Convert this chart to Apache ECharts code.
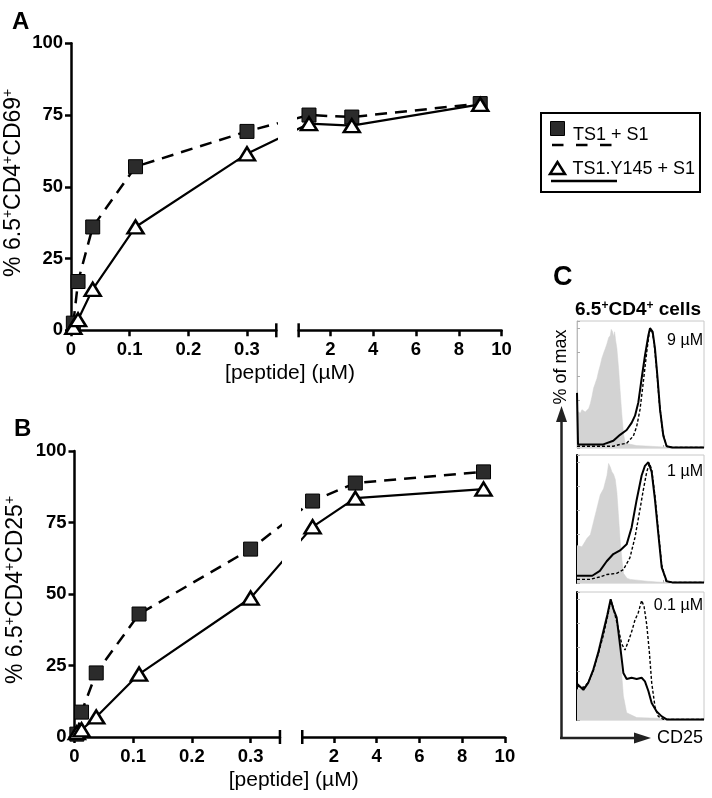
<!DOCTYPE html>
<html><head><meta charset="utf-8">
<script src="https://cdn.jsdelivr.net/npm/echarts@6/dist/echarts.min.js"></script>
<style>html,body{margin:0;padding:0;background:#fff}#c{width:712px;height:798px}</style>
</head><body><div id="c"></div>
<script>
// ---------- DATA ----------
const conc = [0.004, 0.012, 0.037, 0.11, 0.3, 1, 3, 9];           // µM
const cd69_TS1  = [2.5, 17, 36, 57, 69.3, 75, 74.3, 79];
const cd69_Y145 = [1, 3.7, 14.3, 36, 61.5, 72, 71.3, 78.7];
const cd25_TS1  = [1, 8.7, 22.4, 43, 65.7, 82.5, 88.8, 92.7];
const cd25_Y145 = [1.5, 2.5, 7, 22, 48.6, 73.5, 83.5, 86.7];
const leftTicks  = [0, 0.1, 0.2, 0.3];
const rightTicks = [2, 4, 6, 8, 10];
const yTicks = [0, 25, 50, 75, 100];

// Histograms: [CD25 channel, % of max]
const h9_ctrl = [[0,31],[1.3,31],[2.6,29],[3.9,32],[5.2,33],[6.5,30],[7.9,29],[9.2,33],[10.5,37],[11.8,43],[13.1,50],[14.4,54],[15.7,58],[17,64],[18.3,69],[19.6,75],[20.9,79],[22.3,83],[23.6,87],[24.9,92],[26.2,94],[27,99],[28,97],[28.8,93],[29.6,97],[30.4,90],[31.4,83],[32.7,67],[34,47],[35.3,28],[36.6,12],[38,4],[39.3,2.5],[47,2],[57.6,1.5],[68,0.8],[73,0.3],[100,0.3]];
const h9_TS1  = [[0,1.5],[10,1.5],[20,1.5],[28.6,1.5],[33.9,3],[39.1,4],[44.4,10],[47,18],[49.6,32],[52.2,55],[54.9,80],[57,97],[58.8,99],[60.6,89],[62.7,66],[64.8,38],[67.5,13],[70.6,1.5],[75,0.5],[100,0.5]];
const h9_Y145 = [[0,46],[0.8,3],[10,3],[20.7,3],[28.6,6],[33.9,11],[39.1,15],[43,21],[45.7,27],[48.3,38],[50.9,58],[53.5,77],[56.2,94],[57.5,100],[59.6,97],[61.4,83],[63.3,60],[65.4,32],[68,10],[70.6,1.5],[75,0.5],[100,0.5]];
const h1_ctrl = [[0,31],[1.3,31],[3.9,30],[5.2,29],[7.9,37],[10.5,40],[13.1,51],[15.7,62],[18.3,73],[20.9,78],[23.6,89],[24.9,99],[26.2,96],[27.5,92],[28.8,90],[30.1,86],[31.4,75],[32.7,55],[34,35],[35.3,20],[36.6,8],[39.3,4],[41.9,3],[55,1.5],[68,0.5],[100,0.3]];
const h1_TS1  = [[0,3],[10,3],[18,5],[23.4,7],[31.2,8],[36.5,11],[41.7,21],[45.7,38],[49.6,61],[52.2,77],[54.9,92],[57,99],[58.8,94],[61.4,72],[64,44],[66.7,15],[70.1,1.5],[75,0.5],[100,0.5]];
const h1_Y145 = [[0,6],[5,6],[12,6],[18,10],[23.4,18],[28.6,24],[33.9,27],[39.1,32],[43,46],[47,69],[50.9,89],[53.5,97],[56.2,100],[58.8,92],[61.4,69],[64,41],[66.7,13],[70.6,1.5],[75,0.5],[100,0.5]];
const h01_ctrl = [[0,25],[1,25],[7.6,28],[12.9,42],[18.1,65],[22,82],[24.7,93],[26.5,100],[28.6,90],[31.2,79],[33.9,56],[36.5,20],[39.1,6],[47,2],[62.7,1.5],[70,0.5],[100,0.3]];
const h01_TS1  = [[0,28],[1,28],[5,27],[8.9,31],[12.9,41],[16.8,55],[20.7,70],[23.9,85],[26,96],[27.6,97],[29.9,87],[32.5,76],[35.2,63],[37.8,58],[40.4,65],[43,73],[45.7,83],[48.3,89],[50.9,99],[52.8,94],[54.9,79],[57,56],[58.8,31],[61.4,11],[64,3],[68,0.5],[100,0.5]];
const h01_Y145 = [[0,30],[1,30],[5,25],[8.9,31],[12.9,42],[16.8,56],[20.7,73],[23.9,87],[26.5,100],[28.6,92],[31.2,85],[33.9,62],[36.5,39],[39.1,34],[43,35],[47,34],[50.9,35],[53.5,32],[56.2,24],[58.8,14],[62.7,7],[66.7,3],[70.6,0.5],[100,0.5]];
const histTickX = [6, 23.6, 44, 67.7];

// ---------- LAYOUT ----------
const FONT = '"Liberation Sans", Arial, Helvetica, sans-serif';
// broken-axis display coordinate
function D(x){ return x <= 0.5 ? x * 10 : 4.42 + (x - 2) * 0.364; }
const D_LEFT_MAX = 3.5, D_RIGHT_MIN = 3.88, D_RIGHT_MAX = D(10);
const labelMap = {};
leftTicks.concat(rightTicks).forEach(t => { labelMap[D(t).toFixed(4)] = String(t); });
const fmt = v => labelMap[Number(v).toFixed(4)] || '';

const panels = [
  {ax:70.5, top:43.3, bottom:330.3, ppu:58.8, ts1:cd69_TS1, y145:cd69_Y145, name:'% 6.5{s|+}CD4{s|+}CD69{s|+}', gap:45},
  {ax:74.5, top:451, bottom:737, ppu:58.7, ts1:cd25_TS1, y145:cd25_Y145, name:'% 6.5{s|+}CD4{s|+}CD25{s|+}', gap:46}
];

const grid = [], xAxis = [], yAxis = [], series = [], graphic = [];
const axisLineStyle = {color:'#000', width:2.5};
const tickLabel = {fontFamily:FONT, fontSize:18.5, fontWeight:'bold', color:'#000'};

panels.forEach((p, pi) => {
  const h = p.bottom - p.top;
  const gL = grid.length;
  grid.push({left:p.ax, top:p.top, width:D_LEFT_MAX*p.ppu, height:h});
  grid.push({left:p.ax + D_RIGHT_MIN*p.ppu, top:p.top, width:(D_RIGHT_MAX - D_RIGHT_MIN)*p.ppu, height:h});
  [[0, D_LEFT_MAX, leftTicks], [D_RIGHT_MIN, D_RIGHT_MAX, rightTicks]].forEach((seg, si) => {
    const vals = seg[2].map(D);
    xAxis.push({gridIndex:gL+si, type:'value', min:seg[0], max:seg[1],
      axisLine:{show:true, onZero:false, lineStyle:axisLineStyle},
      axisTick:{show:true, length:6, lineStyle:{color:'#000', width:2.5}, customValues:vals},
      axisLabel:Object.assign({show:true, margin:10, customValues:vals, formatter:fmt}, tickLabel),
      splitLine:{show:false}});
    yAxis.push(si === 0 ? {gridIndex:gL, type:'value', min:0, max:100, interval:25,
      axisLine:{show:true, lineStyle:axisLineStyle},
      axisTick:{show:true, length:6, lineStyle:{color:'#000', width:2.5}},
      axisLabel:Object.assign({margin:8}, tickLabel),
      splitLine:{show:false},
      name:p.name, nameLocation:'middle', nameRotate:90, nameGap:p.gap,
      nameTextStyle:{fontFamily:FONT, fontSize:23, color:'#000', lineHeight:25, padding:[0, 0, 0, 8],
        rich:{s:{fontFamily:FONT, fontSize:14, color:'#000', verticalAlign:'top', lineHeight:14}}}}
      : {gridIndex:gL+1, type:'value', min:0, max:100, show:false});
    const xi = gL + si;
    series.push({type:'line', xAxisIndex:xi, yAxisIndex:xi, clip:true, z:2,
      data:conc.map((c, i) => [D(c), p.ts1[i]]),
      symbol:'rect', symbolSize:14, showSymbol:true,
      itemStyle:{color:'#2b2b2b', borderColor:'#000', borderWidth:1},
      lineStyle:{color:'#000', width:2.5, type:[12, 8]}, emphasis:{disabled:true}});
    series.push({type:'line', xAxisIndex:xi, yAxisIndex:xi, clip:true, z:3,
      data:conc.map((c, i) => [D(c), p.y145[i]]),
      symbol:'triangle', symbolSize:[16, 13], showSymbol:true,
      itemStyle:{color:'#fff', borderColor:'#000', borderWidth:2.5},
      lineStyle:{color:'#000', width:2.2}, emphasis:{disabled:true}});
  });
  // break caps
  const xL = p.ax + D_LEFT_MAX*p.ppu, xR = p.ax + D_RIGHT_MIN*p.ppu;
  [xL, xR].forEach(x => graphic.push({type:'line', shape:{x1:x, y1:p.bottom-7, x2:x, y2:p.bottom+7},
    style:{stroke:'#000', lineWidth:2.5}}));
  // x title
  graphic.push({type:'text', x:p.ax + D_RIGHT_MAX*p.ppu/2 + 4, y:p.bottom + 43,
    style:{text:'[peptide] (µM)', fontFamily:FONT, fontSize:21, fill:'#000', textAlign:'center', textVerticalAlign:'middle', verticalAlign:'middle'}});
});

// ---------- Panel C ----------
const hist = [
  {top:321, height:127, ctrl:h9_ctrl, ts1:h9_TS1, y145:h9_Y145, label:'9 µM', ly:341, dark:false},
  {top:455, height:128, ctrl:h1_ctrl, ts1:h1_TS1, y145:h1_Y145, label:'1 µM', ly:472, dark:true},
  {top:592, height:128, ctrl:h01_ctrl, ts1:h01_TS1, y145:h01_Y145, label:'0.1 µM', ly:606, dark:true}
];
hist.forEach(hp => {
  const gi = grid.length;
  grid.push({left:577, top:hp.top, width:127, height:hp.height, show:true, borderColor:'#c8c8c8', borderWidth:1});
  xAxis.push({gridIndex:gi, type:'value', min:0, max:100,
    axisLine:{show:false}, axisLabel:{show:false}, splitLine:{show:false},
    axisTick:{show:true, inside:true, length:3, lineStyle:{color:'#aaa', width:1}, customValues:histTickX}});
  yAxis.push({gridIndex:gi, type:'value', min:0, max:106, interval:20,
    axisLine:{show:true, lineStyle:hp.dark ? {color:'#000', width:2} : {color:'#bbb', width:1}},
    axisLabel:{show:false}, splitLine:{show:false},
    axisTick:{show:true, inside:true, length:3, lineStyle:{color:'#aaa', width:1}}});
  series.push({type:'line', xAxisIndex:gi, yAxisIndex:gi, data:hp.ctrl, symbol:'none', z:1,
    lineStyle:{width:0.5, color:'#d0d0d0'}, areaStyle:{color:'#d3d3d3', opacity:1}, emphasis:{disabled:true}});
  series.push({type:'line', xAxisIndex:gi, yAxisIndex:gi, data:hp.y145, symbol:'none', z:3,
    lineStyle:{width:2, color:'#000'}, emphasis:{disabled:true}});
  series.push({type:'line', xAxisIndex:gi, yAxisIndex:gi, data:hp.ts1, symbol:'none', z:2,
    lineStyle:{width:1.4, color:'#000', type:[3, 2]}, emphasis:{disabled:true}});
  graphic.push({type:'text', x:703, y:hp.ly, z:10,
    style:{text:hp.label, fontFamily:FONT, fontSize:16, fill:'#000', textAlign:'right', textVerticalAlign:'middle', verticalAlign:'middle'}});
});

// panel letters and other texts
[['A', 12, 22, 24], ['B', 14, 429, 24], ['C', 553, 278, 27]].forEach(t => graphic.push({type:'text', x:t[1], y:t[2],
  style:{text:t[0], fontFamily:FONT, fontSize:t[3], fontWeight:'bold', fill:'#000', textAlign:'left', textVerticalAlign:'middle', verticalAlign:'middle'}}));
graphic.push({type:'text', x:638, y:310,
  style:{text:'6.5{s|+}CD4{s|+} cells', fontFamily:FONT, fontSize:19, fontWeight:'bold', fill:'#000', textAlign:'center', textVerticalAlign:'middle', verticalAlign:'middle', lineHeight:21,
    rich:{s:{fontFamily:FONT, fontSize:12, fontWeight:'bold', fill:'#000', verticalAlign:'top', lineHeight:12}}}});
graphic.push({type:'text', x:561, y:367, rotation:Math.PI/2,
  style:{text:'% of max', fontFamily:FONT, fontSize:18, fill:'#000', textAlign:'center', textVerticalAlign:'middle', verticalAlign:'middle'}});
graphic.push({type:'text', x:657, y:738,
  style:{text:'CD25', fontFamily:FONT, fontSize:18, fill:'#000', textAlign:'left', textVerticalAlign:'middle', verticalAlign:'middle'}});
// arrows
graphic.push({type:'line', shape:{x1:561.5, y1:739, x2:561.5, y2:420}, style:{stroke:'#222', lineWidth:2.5}});
graphic.push({type:'polygon', shape:{points:[[561.5,406],[556,422],[567,422]]}, style:{fill:'#222'}});
graphic.push({type:'line', shape:{x1:560, y1:738, x2:637, y2:738}, style:{stroke:'#222', lineWidth:2.5}});
graphic.push({type:'polygon', shape:{points:[[651,738],[634,732.5],[634,743.5]]}, style:{fill:'#222'}});
// legend box
graphic.push({type:'rect', shape:{x:541, y:113, width:159, height:79}, style:{fill:'#fff', stroke:'#000', lineWidth:2}, z:5});
graphic.push({type:'rect', shape:{x:550.5, y:121.5, width:14, height:14}, style:{fill:'#2b2b2b', stroke:'#000', lineWidth:1}, z:6});
graphic.push({type:'text', x:573, y:135, z:6, style:{text:'TS1 + S1', fontFamily:FONT, fontSize:18, fill:'#000', textVerticalAlign:'middle', verticalAlign:'middle'}});
graphic.push({type:'line', z:6, shape:{x1:552, y1:145, x2:613, y2:145}, style:{stroke:'#000', lineWidth:2.5, lineDash:[11.5, 12.5]}});
graphic.push({type:'polygon', z:6, shape:{points:[[557.5,162],[550,174],[565,174]]}, style:{fill:'#fff', stroke:'#000', lineWidth:2.5}});
graphic.push({type:'text', x:572.5, y:169, z:6, style:{text:'TS1.Y145 + S1', fontFamily:FONT, fontSize:18, fill:'#000', textVerticalAlign:'middle', verticalAlign:'middle'}});
graphic.push({type:'line', z:6, shape:{x1:551, y1:181, x2:617, y2:181}, style:{stroke:'#000', lineWidth:2.5}});

const chart = echarts.init(document.getElementById('c'), null, {renderer:'canvas'});
chart.setOption({backgroundColor:'#fff', animation:false, grid, xAxis, yAxis, series, graphic});
</script>
</body></html>
